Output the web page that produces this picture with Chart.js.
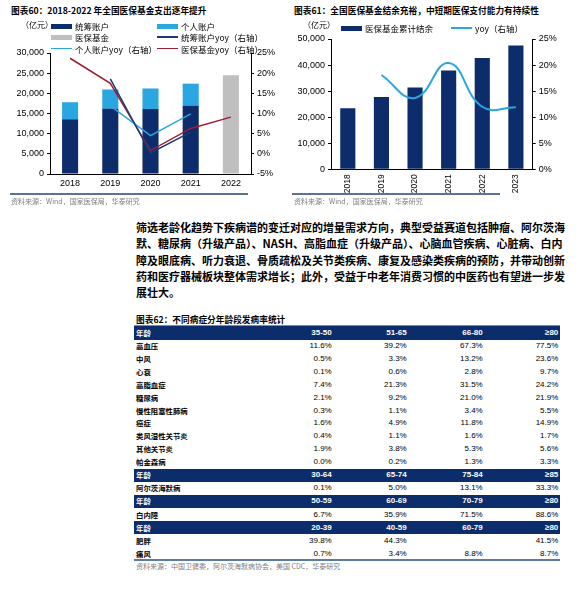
<!DOCTYPE html>
<html>
<head>
<meta charset="utf-8">
<script src="https://cdn.jsdelivr.net/npm/chart.js@4.4.1/dist/chart.umd.min.js"></script>
<style>
  body { margin: 0; background: #fff; }
  #page { position: relative; width: 586px; height: 600px; overflow: hidden; font-family: "Noto Sans CJK SC", "Liberation Sans", sans-serif; color: #000; }
  .abs { position: absolute; white-space: nowrap; }
  .title { font-size: 8.7px; font-weight: bold; line-height: 12px; }
  .unit { font-size: 8px; line-height: 10px; }
  .lg { font-size: 8.5px; line-height: 10px; }
  .src { font-size: 7px; color: #7f7f7f; line-height: 10px; }
  .rule { position: absolute; height: 2px; background: #5d7393; }
  .para { font-size: 11px; font-weight: bold; line-height: 16.3px; }
  .para div { text-align: justify; text-align-last: justify; }
  .para div.last { text-align-last: left; }
  .cell { position: absolute; font-size: 8px; line-height: 12px; white-space: nowrap; font-family: "Liberation Sans", "Noto Sans CJK SC", sans-serif; }
  .hdr { position: absolute; left: 134px; width: 426px; background: #0b2d6c; }
</style>
</head>
<body>
<div id="page">
  <div class="abs title" style="left:11px;top:5px;">图表60：2018-2022 年全国医保基金支出逐年提升</div>
  <div class="abs title" style="left:294px;top:5px;">图表61：全国医保基金结余充裕，中短期医保支付能力有持续性</div>

  <canvas id="chart1" class="abs" width="290" height="195" style="left:0;top:0;"></canvas>
  <canvas id="chart2" class="abs" width="296" height="198" style="left:290px;top:0;"></canvas>
  <div id="legend1"></div>
  <div id="legend2"></div>

  <div class="abs unit" style="left:21px;top:20px;">（亿元）</div>
  <div class="abs unit" style="left:303px;top:20px;">（亿元）</div>

  <div class="rule" style="left:10px;top:193px;width:238px;"></div>
  <div class="rule" style="left:292px;top:193px;width:208px;"></div>
  <div class="abs src" style="left:11px;top:196px;">资料来源：Wind，国家医保局，华泰研究</div>
  <div class="abs src" style="left:294px;top:196px;">资料来源：Wind，国家医保局，华泰研究</div>

  <div class="abs para" id="para" style="left:136px;top:219px;width:422px;"></div>

  <div class="abs title" style="left:136px;top:314px;">图表62：不同病症分年龄段发病率统计</div>
  <div id="table"></div>
  <div class="abs src" style="left:136px;top:561px;">资料来源：中国卫健委，阿尔茨海默病协会，美国 CDC，华泰研究</div>
</div>

<script>
'use strict';
// chart 1 data (亿元 / %)
let years1 = ['2018', '2019', '2020', '2021', '2022'];
let pooledFund = [13600, 16150, 16100, 16900, null];
let personalFund = [4200, 4800, 5100, 5500, null];
let totalFund = [null, null, null, null, 24480];
let pooledYoy = [null, 18.6, 0.2, 5.4, null];
let personalYoy = [null, 11.9, 4.5, 9.9, null];
let totalYoy = [23.7, 17.5, 0.8, 6.3, 9.1];

// chart 2 data
let years2 = ['2018', '2019', '2020', '2021', '2022', '2023'];
let balance = [23460, 27700, 31400, 37900, 42700, 47550];
let balanceYoy = [null, 18.1, 13.7, 20.4, 12.0, 11.9];

let leftTicks1 = [0, 30000, 5000];
let rightTicks1 = [-5, 25, 5];
let leftTicks2 = [0, 50000, 5000];
let rightTicks2 = [0, 25, 5];

// text + table
let paraLines = [
  '筛选老龄化趋势下疾病谱的变迁对应的增量需求方向，典型受益赛道包括肿瘤、阿尔茨海',
  '默、糖尿病（升级产品）、NASH、高脂血症（升级产品）、心脑血管疾病、心脏病、白内',
  '障及眼底病、听力衰退、骨质疏松及关节类疾病、康复及感染类疾病的预防，并带动创新',
  '药和医疗器械板块整体需求增长；此外，受益于中老年消费习惯的中医药也有望进一步发',
  '展壮大。'
];
let tableRows = [
  ['h', '年龄', '35-50', '51-65', '66-80', '≥80'],
  ['r', '高血压', '11.6%', '39.2%', '67.3%', '77.5%'],
  ['r', '中风', '0.5%', '3.3%', '13.2%', '23.6%'],
  ['r', '心衰', '0.1%', '0.6%', '2.8%', '9.7%'],
  ['r', '高脂血症', '7.4%', '21.3%', '31.5%', '24.2%'],
  ['r', '糖尿病', '2.1%', '9.2%', '21.0%', '21.9%'],
  ['r', '慢性阻塞性肺病', '0.3%', '1.1%', '3.4%', '5.5%'],
  ['r', '癌症', '1.6%', '4.9%', '11.8%', '14.9%'],
  ['r', '类风湿性关节炎', '0.4%', '1.1%', '1.6%', '1.7%'],
  ['r', '其他关节炎', '1.9%', '3.8%', '5.3%', '5.6%'],
  ['r', '帕金森病', '0.0%', '0.2%', '1.3%', '3.3%'],
  ['h', '年龄', '30-64', '65-74', '75-84', '≥85'],
  ['r', '阿尔茨海默病', '0.1%', '5.0%', '13.1%', '33.3%'],
  ['h', '年龄', '50-59', '60-69', '70-79', '≥80'],
  ['r', '白内障', '6.7%', '35.9%', '71.5%', '88.6%'],
  ['h', '年龄', '20-39', '40-59', '60-79', '≥80'],
  ['r', '肥胖', '39.8%', '44.3%', '', '41.5%'],
  ['r', '痛风', '0.7%', '3.4%', '8.8%', '8.7%']
];

const NAVY = '#0d2c6b';
const SKY = '#2aa7e0';
const GREY = '#bfbfbf';
const RED = '#a11d33';
const LINE_NAVY = '#1e3a73';
const tickFont = { family: 'Liberation Sans', size: 9 };

function yAxis(range, pos, width, fmt) {
  return {
    position: pos,
    min: range[0],
    max: range[1],
    ticks: { stepSize: range[2], color: '#000', font: tickFont, padding: 3, callback: fmt },
    grid: { drawOnChartArea: false, color: '#000', tickLength: 3 },
    border: { color: '#000', width: 1 },
    afterFit: function (s) { s.width = width; }
  };
}
function commaFmt(v) { return v.toLocaleString('en-US'); }
function pctFmt(v) { return v + '%'; }

new Chart(document.getElementById('chart1'), {
  data: {
    labels: years1,
    datasets: [
      { type: 'line', label: '统筹账户yoy（右轴）', data: pooledYoy, yAxisID: 'y1', borderColor: LINE_NAVY, borderWidth: 1.5, pointRadius: 0, order: 1, tension: 0 },
      { type: 'line', label: '个人账户yoy（右轴）', data: personalYoy, yAxisID: 'y1', borderColor: SKY, borderWidth: 1.5, pointRadius: 0, order: 1, tension: 0 },
      { type: 'line', label: '医保基金yoy（右轴）', data: totalYoy, yAxisID: 'y1', borderColor: RED, borderWidth: 1.5, pointRadius: 0, order: 1, tension: 0 },
      { type: 'bar', label: '统筹账户', data: pooledFund, backgroundColor: NAVY, stack: 's', order: 2, barPercentage: 0.4, categoryPercentage: 1 },
      { type: 'bar', label: '个人账户', data: personalFund, backgroundColor: SKY, stack: 's', order: 2, barPercentage: 0.4, categoryPercentage: 1 },
      { type: 'bar', label: '医保基金', data: totalFund, backgroundColor: GREY, stack: 's', order: 2, barPercentage: 0.4, categoryPercentage: 1 }
    ]
  },
  options: {
    responsive: false,
    animation: false,
    layout: { padding: { top: 53, left: 0, right: 0, bottom: 0 } },
    plugins: { legend: { display: false }, tooltip: { enabled: false } },
    scales: {
      x: {
        stacked: true,
        ticks: { color: '#000', font: tickFont, padding: 4 },
        grid: { display: false, drawTicks: false, tickLength: 0 },
        border: { color: '#000' },
        afterFit: function (s) { s.height = 21; }
      },
      y: Object.assign(yAxis(leftTicks1, 'left', 50, commaFmt), { stacked: true }),
      y1: yAxis(rightTicks1, 'right', 39, pctFmt)
    }
  }
});

new Chart(document.getElementById('chart2'), {
  data: {
    labels: years2,
    datasets: [
      { type: 'line', label: 'yoy（右轴）', data: balanceYoy, yAxisID: 'y1', borderColor: SKY, borderWidth: 2, pointRadius: 0, tension: 0.45, order: 1 },
      { type: 'bar', label: '医保基金累计结余', data: balance, backgroundColor: NAVY, barPercentage: 0.45, categoryPercentage: 1, order: 2 }
    ]
  },
  options: {
    responsive: false,
    animation: false,
    layout: { padding: { top: 39, left: 0, right: 0, bottom: 0 } },
    plugins: { legend: { display: false }, tooltip: { enabled: false } },
    scales: {
      x: {
        ticks: { color: '#000', font: { family: 'Liberation Sans', size: 8.5 }, padding: 5, minRotation: 90, maxRotation: 90, autoSkip: false },
        grid: { display: false, drawTicks: false, tickLength: 0 },
        border: { color: '#000' },
        afterFit: function (s) { s.height = 28.7; }
      },
      y: yAxis(leftTicks2, 'left', 41, commaFmt),
      y1: yAxis(rightTicks2, 'right', 53.3, pctFmt)
    }
  }
});

// legends (html)
function legendItem(host, x, y, kind, color, text) {
  let mark = document.createElement('div');
  mark.className = 'abs';
  mark.style.left = x + 'px';
  mark.style.width = '21px';
  if (kind === 'box') {
    mark.style.top = (y - 2.5) + 'px';
    mark.style.height = '5px';
  } else {
    mark.style.top = (y - 0.75) + 'px';
    mark.style.height = '1.5px';
  }
  mark.style.background = color;
  host.appendChild(mark);
  let label = document.createElement('div');
  label.className = 'abs lg';
  label.style.left = (x + 24) + 'px';
  label.style.top = (y - 5) + 'px';
  label.textContent = text;
  host.appendChild(label);
}
let lg1 = document.getElementById('legend1');
legendItem(lg1, 51, 26, 'box', NAVY, '统筹账户');
legendItem(lg1, 157, 26, 'box', SKY, '个人账户');
legendItem(lg1, 51, 37, 'box', GREY, '医保基金');
legendItem(lg1, 157, 37, 'line', LINE_NAVY, '统筹账户yoy（右轴）');
legendItem(lg1, 51, 48.5, 'line', SKY, '个人账户yoy（右轴）');
legendItem(lg1, 157, 48.5, 'line', RED, '医保基金yoy（右轴）');
let lg2 = document.getElementById('legend2');
legendItem(lg2, 341, 28, 'box', NAVY, '医保基金累计结余');
legendItem(lg2, 451, 28, 'line', SKY, 'yoy（右轴）');

// paragraph
let para = document.getElementById('para');
paraLines.forEach(function (t, i) {
  let d = document.createElement('div');
  d.textContent = t;
  if (i === paraLines.length - 1) d.className = 'last';
  para.appendChild(d);
});

// table
let tbl = document.getElementById('table');
let colRight = [331.7, 406.7, 482.7, 558.3];
let topLine = document.createElement('div');
topLine.className = 'abs';
topLine.style.cssText = 'left:134px;top:325px;width:426px;height:1.5px;background:#6f8db5;';
tbl.appendChild(topLine);
let y = 326.3;
tableRows.forEach(function (row) {
  let h = row[0] === 'h' ? 13.3 : 12.9;
  let white = row[0] === 'h';
  if (white) {
    let band = document.createElement('div');
    band.className = 'hdr';
    band.style.top = y + 'px';
    band.style.height = h + 'px';
    tbl.appendChild(band);
  }
  let cy = y + h / 2 - 6;
  let lab = document.createElement('div');
  lab.className = 'cell';
  lab.style.left = '136px';
  lab.style.top = cy + 'px';
  lab.style.fontFamily = '"Noto Sans CJK SC", sans-serif';
  lab.style.fontSize = '7.4px';
  lab.style.fontWeight = 'bold';
  lab.style.color = white ? '#fff' : '#000';
  lab.textContent = row[1];
  tbl.appendChild(lab);
  for (let c = 0; c < 4; c++) {
    let v = document.createElement('div');
    v.className = 'cell';
    v.style.right = (586 - colRight[c]) + 'px';
    v.style.top = cy + 'px';
    v.style.color = white ? '#fff' : '#000';
    v.style.fontWeight = white ? 'bold' : 'normal';
    v.textContent = row[c + 2];
    tbl.appendChild(v);
  }
  y += h;
});
let bottomLine = document.createElement('div');
bottomLine.className = 'abs';
bottomLine.style.cssText = 'left:134px;top:' + (y - 1.5) + 'px;width:426px;height:2px;background:#5d7aa3;';
tbl.appendChild(bottomLine);
</script>
</body>
</html>
